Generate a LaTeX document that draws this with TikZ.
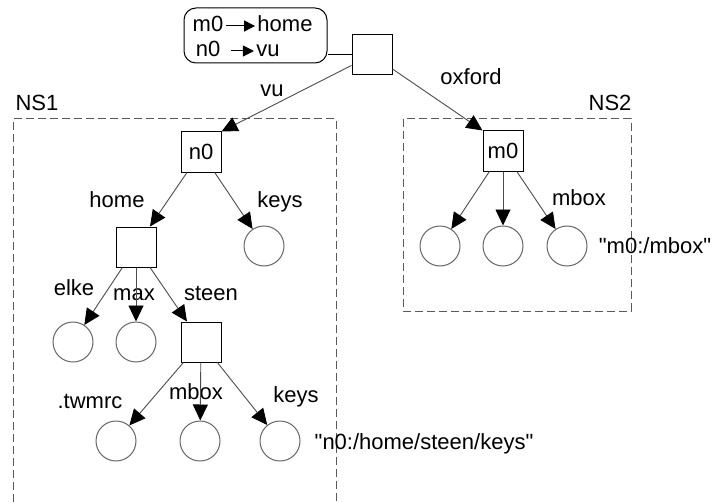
\documentclass[tikz,border=0pt]{standalone}
\usepackage{fontspec}
\setmainfont{Liberation Sans}
\usetikzlibrary{arrows.meta}

\tikzset{
	dirbox/.style={draw, rectangle, line width=0.5pt, minimum size=20pt, inner sep=0pt},
	leaf/.style={draw=black!60, circle, line width=0.5pt, minimum size=20pt, inner sep=0pt},
	lbl/.style={inner sep=1pt, text height=8pt, text depth=2pt},
	link/.style={draw=black!70, line width=0.45pt, -{Triangle[length=8pt,width=7.5pt,color=black]}},
	region/.style={draw=black!65, dash pattern=on 4pt off 2pt, line width=0.5pt},
}

\begin{document}
\begin{tikzpicture}[x=0.5pt, y=-0.5pt, font=\fontsize{11}{13}\selectfont]
			\useasboundingbox (0,0) rectangle (715,502);

			\node[draw, rounded corners=6pt, line width=0.5pt, minimum width=71.5pt, minimum height=27.5pt] (legend) at (255.5,35.5) {};
			\node[lbl] (lm) at (208,26) {m0};
			\node[lbl] (lhome) at (285,26) {home};
			\node[lbl] (ln) at (208,51) {n0};
			\node[lbl] (lvu) at (268,51) {vu};
			\draw[line width=0.5pt, -{Triangle[length=5.5pt,width=5.5pt]}] (lm) -- (lhome);
			\draw[line width=0.5pt, -{Triangle[length=5.5pt,width=5.5pt]}] ([xshift=4pt]ln.east) -- (lvu.west);

			\node[dirbox] (root) at (372,55) {};
			\draw[line width=0.5pt] (root.west) -- (root.west -| legend.east);

			\draw[region] (13,502) -- (13,119) -- (336,119) -- (336,502);
			\draw[region] (403,119) rectangle (631,311);
			\node[lbl] (ns1) at (37,105) {NS1};
			\node[lbl] (ns2) at (610,105) {NS2};

			\node[dirbox] (n0) at (201,152) {n0};
			\node[dirbox] (m0) at (503,151) {m0};
			\draw[link] (root) -- (n0.north east);
			\draw[link] (root) -- (m0.north west);
			\node[lbl] at (272,91) {vu};
			\node[lbl] at (471,79) {oxford};

			\begin{scope}
				\node[dirbox] (home) at (136,247) {};
				\node[leaf] (keys) at (264,246) {};
				\node[leaf] (elke) at (73,342) {};
				\node[leaf] (max) at (136,342) {};
				\node[dirbox] (steen) at (201,342) {};
				\node[leaf] (twmrc) at (116,441) {};
				\node[leaf] (mbox) at (200,441) {};
				\node[leaf] (skeys) at (280,441) {};

				\node[lbl] at (117,201) {home};
				\node[lbl] at (280,201) {keys};
				\node[lbl] at (74,289) {elke};
				\node[lbl] at (134,294) {max};
				\node[lbl] at (211,294) {steen};
				\node[lbl] at (90,402) {.twmrc};
				\node[lbl] at (196,393) {mbox};
				\node[lbl] at (296,396) {keys};
				\node[lbl] at (424,443) {\textquotedbl n0:/home/steen/keys\textquotedbl};

				\draw[link] (n0) -- (home);
				\draw[link] (n0) -- (keys);
				\draw[link] (home) -- (elke);
				\draw[link] (home) -- (max);
				\draw[link] (home) -- (steen);
				\draw[link] (steen) -- (twmrc);
				\draw[link] (steen) -- (mbox);
				\draw[link] (steen) -- (skeys);
			\end{scope}

			\begin{scope}
				\node[leaf] (ma) at (440,246) {};
				\node[leaf] (mb) at (503,246) {};
				\node[leaf] (mmbox) at (567,246) {};
				\node[lbl] at (579,199) {mbox};
				\node[lbl] at (655,247) {\textquotedbl m0:/mbox\textquotedbl};

				\draw[link] (m0) -- (ma);
				\draw[link] (m0) -- (mb);
				\draw[link] (m0) -- (mmbox);
			\end{scope}
		\end{tikzpicture}
\end{document}
